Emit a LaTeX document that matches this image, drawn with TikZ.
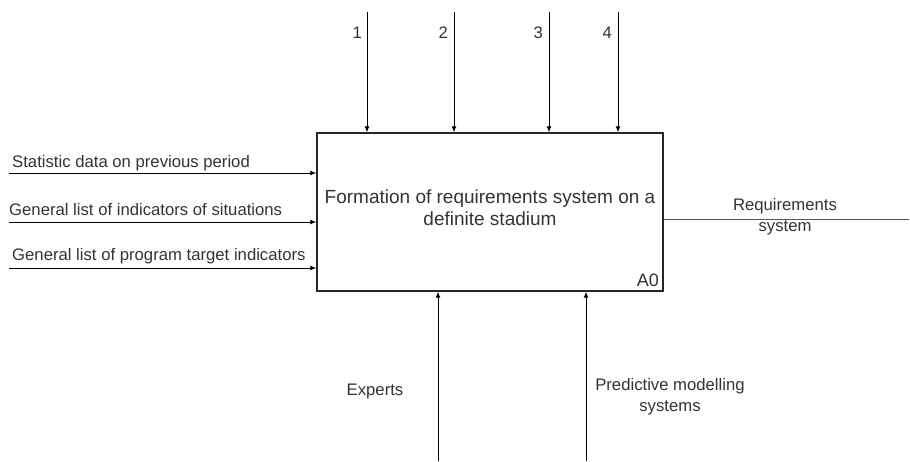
\documentclass[tikz,border=0pt]{standalone}
\usepackage{fontspec}
\setmainfont{Liberation Sans}
\usetikzlibrary{arrows.meta}
\tikzset{
    every node/.style={inner sep=0pt, text=black!80,
    	font=\fontsize{16.7}{21}\selectfont}
}
\tikzset{
    fn/.style={draw=black!85, line width=1.3pt, minimum width=346pt,
    	minimum height=158pt},
    arr/.style={line width=1pt, -{Latex[length=6pt,width=5pt]}},
    line/.style={line width=1pt, draw=black!65}
}

\begin{document}
\begin{tikzpicture}[x=1pt, y=-1pt]
  \useasboundingbox (0,0) rectangle (910,461);
  \node (A0) [fn] at (490,212) {};
  \node (title) [align=center, font=\fontsize{19}{22}\selectfont] at (490,208)
    {Formation of requirements system on a\\definite stadium};
  \node (num) [anchor=base east, font=\fontsize{18}{21}\selectfont]
    at (659,286) {A0};

  \coordinate (c1) at (367,12); \coordinate (c2) at (454,12);
  \coordinate (c3) at (549,12); \coordinate (c4) at (618,12);
  \node (l1) [anchor=east] at (362,33) {1};
  \node (l2) [anchor=east] at (448,33) {2};
  \node (l3) [anchor=east] at (543,33) {3};
  \node (l4) [anchor=east] at (612,33) {4};

  \coordinate (i1) at (9,173); \coordinate (i2) at (9,222);
  \coordinate (i3) at (9,268);
  \node (in1) [anchor=west] at (12,163) {Statistic data on previous period};
  \node (in2) [anchor=west] at (9,210) {General list of indicators of situations};
  \node (in3) [anchor=west] at (12,256) {General list of program target indicators};

  \coordinate (m1) at (438,461); \coordinate (m2) at (586,461);
  \node (me1) at (375,391) {Experts};
  \node (me2) [align=center] at (670,397) {Predictive modelling\\systems};

  \coordinate (o1) at (909,219);
  \node (out1) [align=center] at (785,217) {Requirements\\system};

  \draw[arr] (c1) -- (c1 |- A0.north); \draw[arr] (c2) -- (c2 |- A0.north);
  \draw[arr] (c3) -- (c3 |- A0.north); \draw[arr] (c4) -- (c4 |- A0.north);
  \draw[arr] (i1) -- (i1 -| A0.west); \draw[arr] (i2) -- (i2 -| A0.west);
  \draw[arr] (i3) -- (i3 -| A0.west);
  \draw[arr] (m1) -- (m1 |- A0.south); \draw[arr] (m2) -- (m2 |- A0.south);
  \draw[line] (o1 -| A0.east) -- (o1);
\end{tikzpicture}
\end{document}
